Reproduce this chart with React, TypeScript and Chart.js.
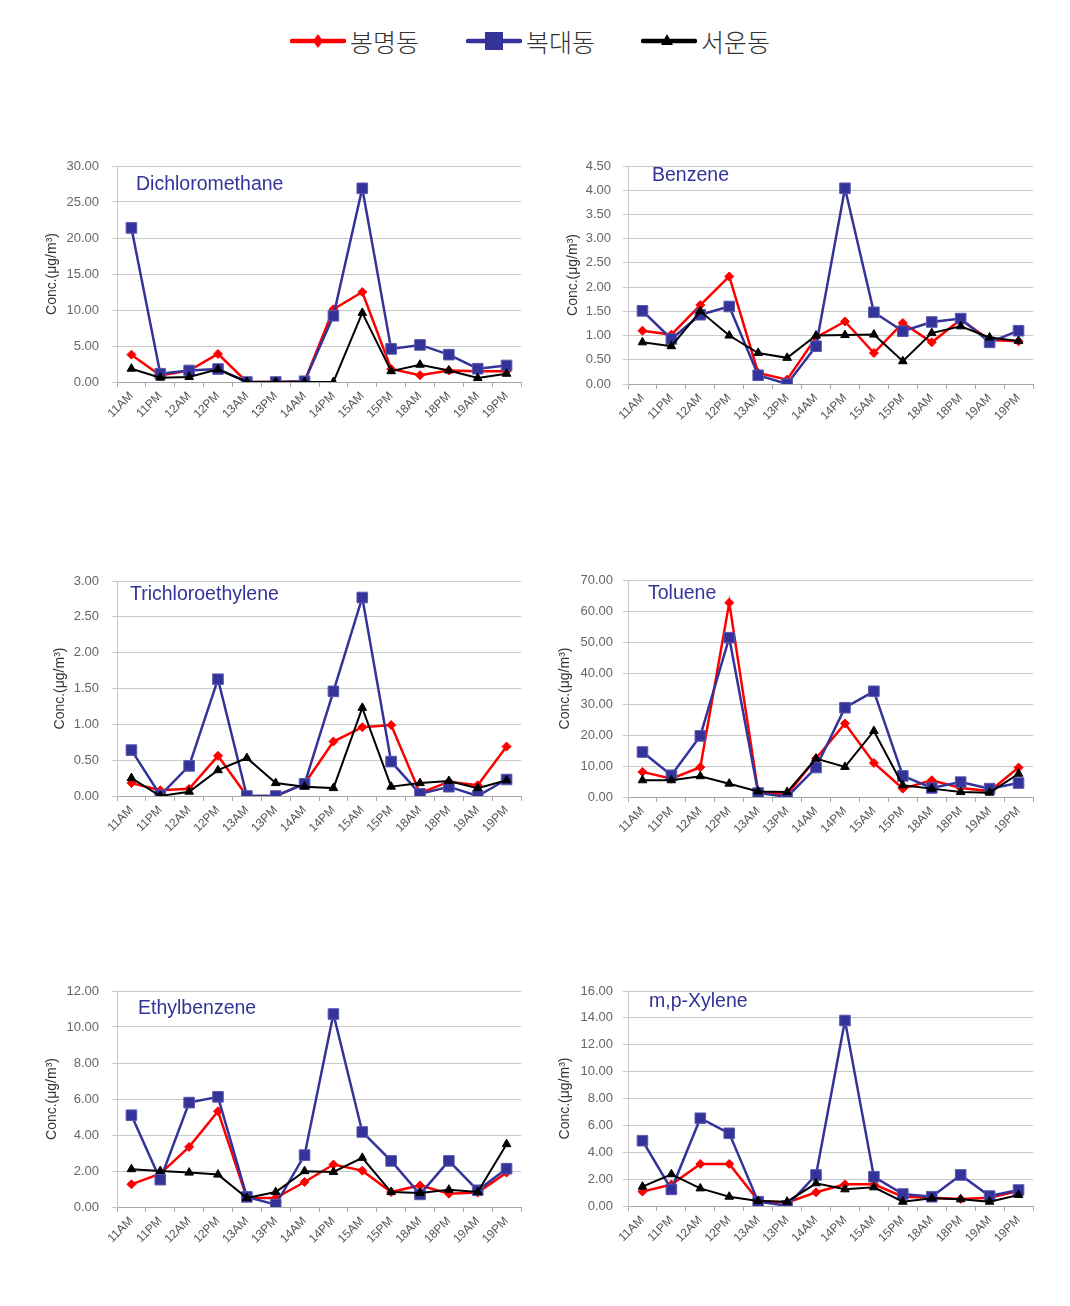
import React, { useEffect, useRef } from 'react';
import { Chart, registerables } from 'chart.js';

Chart.register(...registerables);

// ---------- data ----------
const categories = ['11AM', '11PM', '12AM', '12PM', '13AM', '13PM', '14AM', '14PM', '15AM', '15PM', '18AM', '18PM', '19AM', '19PM'];
const seriesNames = ['봉명동', '복대동', '서운동'];
const yAxisTitle = 'Conc.(μg/m³)';

const dcmBongmyeong = [3.8, 0.9, 1.6, 3.9, 0, 0, 0.1, 10.1, 12.5, 1.8, 0.95, 1.6, 1.5, 1.5];
const dcmBokdae = [21.4, 1.15, 1.6, 1.8, 0, 0, 0.1, 9.2, 26.9, 4.6, 5.15, 3.8, 1.85, 2.3];
const dcmSeoun = [1.85, 0.6, 0.7, 1.75, 0, 0, 0, 0, 9.6, 1.5, 2.4, 1.6, 0.55, 1.15];

const bzBongmyeong = [1.1, 1.02, 1.63, 2.22, 0.23, 0.09, 0.96, 1.29, 0.64, 1.26, 0.86, 1.33, 0.91, 0.88];
const bzBokdae = [1.51, 0.93, 1.43, 1.6, 0.18, 0.0, 0.78, 4.04, 1.48, 1.09, 1.28, 1.35, 0.86, 1.1];
const bzSeoun = [0.86, 0.78, 1.5, 1.0, 0.64, 0.54, 1.0, 1.01, 1.02, 0.47, 1.05, 1.19, 0.96, 0.89];

const tceBongmyeong = [0.18, 0.08, 0.1, 0.56, 0, 0, 0.17, 0.76, 0.96, 0.99, 0.04, 0.2, 0.15, 0.69];
const tceBokdae = [0.64, 0.01, 0.42, 1.63, 0, 0, 0.17, 1.46, 2.77, 0.48, 0.03, 0.13, 0, 0.23];
const tceSeoun = [0.25, 0, 0.06, 0.36, 0.53, 0.18, 0.13, 0.11, 1.23, 0.13, 0.18, 0.21, 0.11, 0.22];

const tolBongmyeong = [8.1, 5.9, 9.6, 62.7, 1.6, 0.8, 12.4, 23.7, 11.0, 2.7, 5.4, 2.9, 1.9, 9.5];
const tolBokdae = [14.5, 7.0, 19.7, 51.4, 1.3, 0, 9.5, 28.8, 34.1, 6.8, 2.9, 4.8, 2.7, 4.5];
const tolSeoun = [5.4, 5.4, 6.7, 4.3, 1.8, 1.6, 12.4, 9.7, 21.3, 3.8, 2.7, 1.6, 1.4, 7.5];

const ebBongmyeong = [1.26, 1.85, 3.34, 5.32, 0.5, 0.5, 1.39, 2.36, 2.02, 0.83, 1.2, 0.74, 0.8, 1.91];
const ebBokdae = [5.1, 1.52, 5.8, 6.12, 0.56, 0.13, 2.88, 10.72, 4.17, 2.56, 0.7, 2.56, 0.93, 2.13];
const ebSeoun = [2.1, 2.0, 1.91, 1.8, 0.5, 0.83, 1.99, 1.95, 2.73, 0.83, 0.78, 0.96, 0.83, 3.49];

const xylBongmyeong = [1.07, 1.6, 3.13, 3.13, 0.4, 0.25, 1.02, 1.61, 1.61, 0.69, 0.62, 0.52, 0.62, 1.12];
const xylBokdae = [4.86, 1.24, 6.53, 5.41, 0.32, 0.02, 2.31, 13.8, 2.18, 0.89, 0.69, 2.31, 0.74, 1.19];
const xylSeoun = [1.44, 2.36, 1.31, 0.69, 0.37, 0.32, 1.69, 1.24, 1.39, 0.32, 0.57, 0.5, 0.32, 0.82];

const panelTitles = ['Dichloromethane', 'Benzene', 'Trichloroethylene', 'Toluene', 'Ethylbenzene', 'm,p-Xylene'];
const panelMax = [30, 4.5, 3, 70, 12, 16];
const panelStep = [5, 0.5, 0.5, 10, 2, 2];
const panelData = [
  [dcmBongmyeong, dcmBokdae, dcmSeoun],
  [bzBongmyeong, bzBokdae, bzSeoun],
  [tceBongmyeong, tceBokdae, tceSeoun],
  [tolBongmyeong, tolBokdae, tolSeoun],
  [ebBongmyeong, ebBokdae, ebSeoun],
  [xylBongmyeong, xylBokdae, xylSeoun],
];

// ---------- layout / style ----------
const FONT = '"Liberation Sans", Arial, sans-serif';
const X_AXIS_H = 60;
const TOP_PAD = 26;

const frames = [
  { left: 40, plotTop: 166, plotH: 216, width: 490, yW: 77, padR: 9, labelPad: 13, titlePad: 3.3, tx: 19, ty: 19 },
  { left: 550, plotTop: 166, plotH: 218, width: 495, yW: 78, padR: 12, labelPad: 12, titlePad: 14.9, tx: 24, ty: 10 },
  { left: 40, plotTop: 581, plotH: 215, width: 490, yW: 77, padR: 9, labelPad: 13, titlePad: 11.5, tx: 13, ty: 14 },
  { left: 550, plotTop: 580, plotH: 217, width: 495, yW: 78, padR: 12, labelPad: 10, titlePad: 6.6, tx: 20, ty: 14 },
  { left: 40, plotTop: 991, plotH: 216, width: 490, yW: 77, padR: 9, labelPad: 13, titlePad: 3.3, tx: 21, ty: 18 },
  { left: 550, plotTop: 991, plotH: 215, width: 495, yW: 78, padR: 12, labelPad: 10, titlePad: 6.6, tx: 21, ty: 11 },
];

const seriesStyles = [
  { borderColor: '#ff0000', backgroundColor: '#ff0000', borderWidth: 2.5, pointStyle: 'rectRot', pointRadius: 4.5, pointBorderColor: '#ff0000', pointBackgroundColor: '#ff0000', pointBorderWidth: 1, order: 2 },
  { borderColor: '#333399', backgroundColor: '#333399', borderWidth: 2.5, pointStyle: 'rect', pointRadius: 7.5, pointBorderColor: '#5a5ab0', pointBackgroundColor: '#333399', pointBorderWidth: 1, order: 1 },
  { borderColor: '#000000', backgroundColor: '#000000', borderWidth: 2, pointStyle: 'triangle', pointRadius: 5, pointBorderColor: '#000000', pointBackgroundColor: '#000000', pointBorderWidth: 1, order: 0 },
];

const panelTitlePlugin = {
  id: 'panelTitle',
  afterDatasetsDraw(chart: any, _args: any, opts: any) {
    const { ctx, chartArea } = chart;
    ctx.save();
    ctx.font = `19.5px ${FONT}`;
    ctx.fillStyle = '#333399';
    ctx.textAlign = 'left';
    ctx.textBaseline = 'middle';
    ctx.fillText(opts.text, chartArea.left + opts.dx, chartArea.top + opts.dy);
    ctx.restore();
  },
};

function Panel({ index }: { index: number }) {
  const ref = useRef<HTMLCanvasElement>(null);
  const f = frames[index];
  const h = TOP_PAD + f.plotH + X_AXIS_H;
  useEffect(() => {
    if (!ref.current) return;
    const chart = new Chart(ref.current, {
      type: 'line',
      data: {
        labels: categories,
        datasets: seriesStyles.map((s, i) => ({
          label: seriesNames[i],
          data: panelData[index][i],
          tension: 0,
          fill: false,
          ...s,
        })) as any,
      },
      options: {
        animation: false,
        responsive: false,
        maintainAspectRatio: false,
        devicePixelRatio: 1,
        layout: { padding: { top: TOP_PAD, right: f.padR, left: 0, bottom: 0 } },
        plugins: {
          legend: { display: false },
          tooltip: { enabled: false },
          panelTitle: { text: panelTitles[index], dx: f.tx, dy: f.ty },
        } as any,
        scales: {
          x: {
            type: 'category',
            offset: true,
            grid: { offset: true, drawOnChartArea: false, tickLength: 5, color: '#a6a6a6' },
            border: { display: true, color: '#a6a6a6' },
            ticks: {
              autoSkip: false,
              minRotation: 45,
              maxRotation: 45,
              padding: 2,
              color: '#555555',
              font: { family: FONT, size: 12 },
            },
            afterFit: (s: any) => { s.height = X_AXIS_H; },
          },
          y: {
            min: 0,
            max: panelMax[index],
            grid: { color: '#c8c8c8', tickLength: 5, lineWidth: 1 },
            border: { display: true, color: '#c8c8c8' },
            ticks: {
              stepSize: panelStep[index],
              padding: f.labelPad,
              color: '#666666',
              font: { family: FONT, size: 13 },
              callback: (v: any) => Number(v).toFixed(2),
            },
            title: {
              display: true,
              text: yAxisTitle,
              color: '#333333',
              font: { family: FONT, size: 14 },
              padding: { top: f.titlePad, bottom: 0 },
            },
            afterFit: (s: any) => { s.width = f.yW; },
          },
        } as any,
      },
      plugins: [panelTitlePlugin],
    });
    return () => chart.destroy();
  }, [index]);
  return (
    <canvas
      ref={ref}
      width={f.width}
      height={h}
      style={{ position: 'absolute', left: f.left, top: f.plotTop - TOP_PAD, width: f.width, height: h }}
    />
  );
}

function LegendItem({ left, idx }: { left: number; idx: number }) {
  const color = ['#ff0000', '#333399', '#000000'][idx];
  let marker: any = null;
  if (idx === 0) marker = <polygon points="28,5 33,12 28,19 23,12" fill={color} />;
  if (idx === 1) marker = <rect x={19} y={3} width={18} height={18} fill={color} />;
  if (idx === 2) marker = <polygon points="26,5 32,16 20,16" fill={color} />;
  return (
    <div style={{ position: 'absolute', left, top: 23, height: 36, display: 'flex', alignItems: 'center' }}>
      <svg width={56} height={24} style={{ display: 'block' }}>
        <line x1={2} y1={12} x2={54} y2={12} stroke={color} strokeWidth={4.5} strokeLinecap="round" />
        {marker}
      </svg>
      <span
        style={{
          marginLeft: 4,
          fontFamily: '"Noto Sans CJK KR", sans-serif',
          fontSize: 25,
          color: '#333333',
          fontWeight: 300,
          lineHeight: '36px',
        }}
      >
        {seriesNames[idx]}
      </span>
    </div>
  );
}

export default function App() {
  return (
    <div style={{ position: 'absolute', left: 0, top: 0, width: 1070, height: 1306, background: '#ffffff', overflow: 'hidden' }}>
      <LegendItem left={290} idx={0} />
      <LegendItem left={466} idx={1} />
      <LegendItem left={641} idx={2} />
      {frames.map((_, i) => (
        <Panel key={i} index={i} />
      ))}
    </div>
  );
}
